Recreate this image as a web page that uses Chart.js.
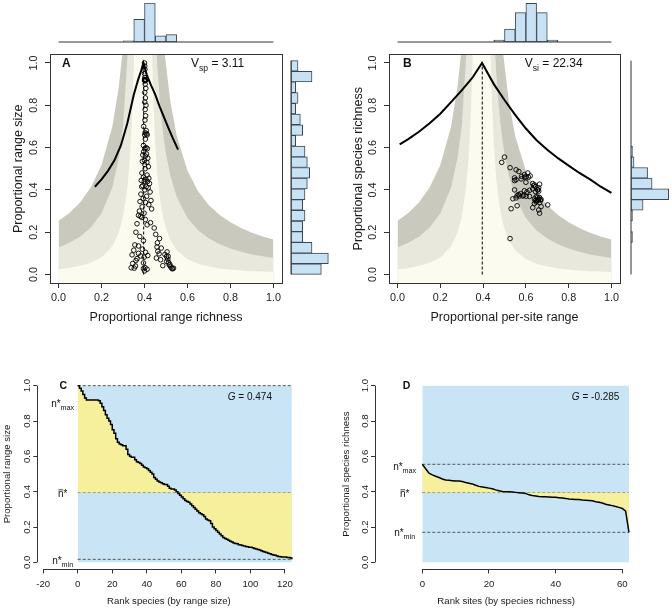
<!DOCTYPE html>
<html>
<head>
<meta charset="utf-8">
<script src="https://cdn.jsdelivr.net/npm/chart.js@4.4.1/dist/chart.umd.min.js"></script>
<style>
  body { margin: 0; background: #fff; width: 672px; height: 610px; position: relative; overflow: hidden; }
  canvas { position: absolute; }
</style>
</head>
<body>
<script>
// ---- data ----
// panel A / C: species, in rank order (range size, descending) and their range richness
const aSize = [1.0, 0.985, 0.97, 0.95, 0.93, 0.919, 0.919, 0.919, 0.919, 0.919, 0.919, 0.919, 0.915, 0.9, 0.88,
  0.86, 0.835, 0.815, 0.8, 0.78, 0.75, 0.73, 0.7, 0.68, 0.67, 0.665, 0.66, 0.66, 0.64, 0.61,
  0.6, 0.595, 0.595, 0.58, 0.57, 0.565, 0.56, 0.55, 0.54, 0.535, 0.53, 0.52, 0.51, 0.5, 0.48,
  0.47, 0.46, 0.455, 0.45, 0.445, 0.44, 0.44, 0.43, 0.42, 0.415, 0.415, 0.41, 0.4, 0.39, 0.38,
  0.37, 0.36, 0.35, 0.345, 0.34, 0.33, 0.32, 0.31, 0.3, 0.29, 0.28, 0.275, 0.27, 0.26, 0.245,
  0.24, 0.235, 0.22, 0.2, 0.19, 0.18, 0.17, 0.16, 0.15, 0.14, 0.135, 0.13, 0.125, 0.12, 0.115,
  0.11, 0.107, 0.105, 0.1, 0.098, 0.095, 0.093, 0.09, 0.088, 0.086, 0.085, 0.082, 0.078, 0.075, 0.073,
  0.07, 0.066, 0.062, 0.058, 0.055, 0.052, 0.048, 0.045, 0.042, 0.04, 0.036, 0.033, 0.032, 0.03, 0.03,
  0.03, 0.028, 0.027, 0.025, 0.017];
const aRich = [0.400, 0.401, 0.402, 0.400, 0.401, 0.403, 0.400, 0.404, 0.402, 0.402, 0.405, 0.401, 0.402, 0.403, 0.406,
  0.401, 0.404, 0.401, 0.407, 0.403, 0.405, 0.402, 0.396, 0.408, 0.403, 0.410, 0.401, 0.412, 0.404, 0.395,
  0.407, 0.401, 0.413, 0.396, 0.409, 0.392, 0.404, 0.415, 0.400, 0.390, 0.411, 0.401, 0.418, 0.403, 0.388,
  0.412, 0.395, 0.420, 0.406, 0.385, 0.414, 0.399, 0.423, 0.392, 0.408, 0.387, 0.417, 0.401, 0.426, 0.383,
  0.410, 0.394, 0.430, 0.379, 0.405, 0.420, 0.389, 0.433, 0.376, 0.398, 0.372, 0.381, 0.388, 0.404, 0.428,
  0.365, 0.412, 0.445, 0.360, 0.452, 0.378, 0.470, 0.395, 0.460, 0.355, 0.372, 0.458, 0.478, 0.390, 0.350,
  0.462, 0.505, 0.405, 0.372, 0.468, 0.495, 0.342, 0.415, 0.382, 0.510, 0.502, 0.398, 0.455, 0.365, 0.508,
  0.475, 0.360, 0.503, 0.512, 0.395, 0.345, 0.518, 0.515, 0.485, 0.358, 0.522, 0.402, 0.338, 0.535, 0.527,
  0.352, 0.395, 0.530, 0.412, 0.400];

// panel B / D: sites, in rank order (species richness, descending) and their per-site range
const bRich = [0.555, 0.53, 0.505, 0.495, 0.487, 0.48, 0.472, 0.466, 0.464, 0.462, 0.46, 0.46, 0.457, 0.452, 0.448,
  0.444, 0.436, 0.43, 0.427, 0.424, 0.42, 0.416, 0.41, 0.405, 0.401, 0.4, 0.4, 0.398, 0.396, 0.394,
  0.392, 0.39, 0.382, 0.378, 0.375, 0.372, 0.371, 0.371, 0.37, 0.369, 0.368, 0.366, 0.364, 0.362, 0.358,
  0.357, 0.356, 0.355, 0.353, 0.352, 0.35, 0.348, 0.343, 0.34, 0.336, 0.329, 0.325, 0.321, 0.316, 0.311,
  0.305, 0.29, 0.17];
const bRange = [0.500, 0.487, 0.526, 0.554, 0.567, 0.609, 0.593, 0.620, 0.580, 0.601, 0.612, 0.595, 0.547, 0.578, 0.554,
  0.547, 0.600, 0.632, 0.664, 0.640, 0.636, 0.645, 0.660, 0.632, 0.656, 0.547, 0.655, 0.617, 0.593, 0.660,
  0.645, 0.605, 0.575, 0.565, 0.590, 0.559, 0.570, 0.586, 0.601, 0.617, 0.648, 0.655, 0.664, 0.554, 0.539,
  0.640, 0.660, 0.671, 0.656, 0.668, 0.645, 0.652, 0.648, 0.664, 0.640, 0.702, 0.559, 0.671, 0.632, 0.531,
  0.660, 0.664, 0.526];

// expectation curves
const aCurveX = [0.169, 0.2, 0.23, 0.26, 0.29, 0.32, 0.35, 0.37, 0.385, 0.395, 0.41, 0.43, 0.45, 0.47, 0.49, 0.51, 0.53, 0.556];
const aCurveY = [0.415, 0.45, 0.49, 0.54, 0.61, 0.715, 0.85, 0.92, 0.965, 1.0, 0.945, 0.895, 0.85, 0.795, 0.745, 0.695, 0.648, 0.59];
const bCurveX = [0.01, 0.05, 0.1, 0.15, 0.2, 0.25, 0.3, 0.35, 0.395, 0.45, 0.5, 0.55, 0.6, 0.65, 0.7, 0.75, 0.8, 0.85, 0.9, 0.95, 1.0];
const bCurveY = [0.615, 0.64, 0.675, 0.715, 0.76, 0.815, 0.87, 0.93, 1.0, 0.9, 0.825, 0.755, 0.69, 0.635, 0.59, 0.55, 0.515, 0.48, 0.45, 0.415, 0.386];
const centreX = 0.396;

// envelope bands (upper edges), shared by A and B
const bandX = [0, 0.05, 0.1, 0.15, 0.2, 0.25, 0.28, 0.3, 0.32, 0.33, 0.34, 0.35, 0.36, 0.43, 0.44, 0.45,
  0.46, 0.47, 0.48, 0.49, 0.5, 0.52, 0.55, 0.6, 0.65, 0.7, 0.75, 0.8, 0.85, 0.9, 0.95, 1.0];
const bandDark = [0.254, 0.291, 0.341, 0.411, 0.518, 0.699, 0.885, 1.075, 1.37, 1.5, 1.5, 1.5, 1.5, 1.5, 1.5, 1.5,
  1.5, 1.36, 1.2, 1.08, 0.99, 0.82, 0.655, 0.49, 0.393, 0.328, 0.281, 0.247, 0.22, 0.198, 0.18, 0.165];
const bandMid = [0.128, 0.15, 0.179, 0.222, 0.29, 0.41, 0.55, 0.7, 1.02, 1.25, 1.5, 1.5, 1.5, 1.5, 1.47, 1.18,
  0.978, 0.834, 0.725, 0.639, 0.571, 0.469, 0.367, 0.267, 0.208, 0.17, 0.143, 0.123, 0.108, 0.095, 0.086, 0.078];
const bandPale = [0.025, 0.031, 0.041, 0.056, 0.081, 0.134, 0.198, 0.273, 0.408, 0.522, 0.695, 0.983, 1.5, 1.26, 0.848, 0.616,
  0.471, 0.374, 0.305, 0.255, 0.217, 0.163, 0.115, 0.072, 0.051, 0.038, 0.029, 0.024, 0.019, 0.016, 0.014, 0.012];

// marginal histograms (counts per 0.05 bin, starting at the given break)
const binW = 0.05;
const aRichHistStart = 0.30, aRichHist = [2, 37, 64, 10, 12];
const aSizeHistStart = 0.0, aSizeHist = [13, 16, 9, 5, 5, 6, 5, 6, 7, 8, 7, 6, 2, 5, 4, 2, 3, 2, 9, 3];
const bRangeHistStart = 0.45, bRangeHist = [1, 7, 16, 21, 16, 1];
const bRichHistStart = 0.15, bRichHist = [1, 0, 1, 8, 25, 14, 11, 2, 1];

// summary lines for C and D
const cMax = 1.0, cMean = 0.395, cMin = 0.017;
const dMax = 0.555, dMean = 0.395, dMin = 0.17;

// tick labels
const unitTicks = [0, 0.2, 0.4, 0.6, 0.8, 1.0];
const cRankTicks = [-20, 0, 20, 40, 60, 80, 100, 120];
const dRankTicks = [0, 20, 40, 60];

// ---- drawing ----
const FAM = '"Liberation Sans", Arial, Helvetica, sans-serif';
Chart.defaults.font.family = FAM;
const histFill = '#c7e2f4', histEdge = '#3d4753';
const colDark = '#c9c9bd', colMid = '#e8e8dc', colPale = '#fbfbef';
const colBlue = '#c9e5f5', colYellow = '#f6f09c';

function canvasAt(left, top, w, h) {
  const c = document.createElement('canvas');
  c.width = w; c.height = h;
  c.style.left = left + 'px'; c.style.top = top + 'px';
  c.style.width = w + 'px'; c.style.height = h + 'px';
  document.body.appendChild(c);
  return c;
}

function base(extra) {
  return Object.assign({
    responsive: false, animation: false, events: [],
    plugins: Object.assign({ legend: { display: false }, tooltip: { enabled: false } }, extra || {})
  });
}

const pts = (xs, ys) => xs.map((x, i) => ({ x: x, y: ys[i] }));
const ranked = ys => ys.map((y, i) => ({ x: i, y: y }));

// rich text with subscripts / bars, used for panel letters and annotations
function richText(ctx, parts, px, py, align, size) {
  const fontOf = p => (p.italic ? 'italic ' : '') + (p.bold ? 'bold ' : '') + (p.sub ? size * 0.72 : size) + 'px ' + FAM;
  let w = 0;
  parts.forEach(p => { ctx.font = fontOf(p); p.w = ctx.measureText(p.t).width; w += p.w; });
  let cx = align === 'center' ? px - w / 2 : align === 'right' ? px - w : px;
  const baseY = py + size * 0.36;
  ctx.textAlign = 'left'; ctx.textBaseline = 'alphabetic';
  ctx.fillStyle = '#111'; ctx.strokeStyle = '#111';
  parts.forEach(p => {
    ctx.font = fontOf(p);
    ctx.fillText(p.t, cx, p.sub ? baseY + size * 0.28 : baseY);
    if (p.bar) {
      ctx.lineWidth = 0.8;
      ctx.beginPath();
      ctx.moveTo(cx + 0.5, baseY - size * 0.72);
      ctx.lineTo(cx + p.w - 0.5, baseY - size * 0.72);
      ctx.stroke();
    }
    cx += p.w;
  });
}

// R-like decorations: box or short axis lines, plus annotations
const rDecor = {
  id: 'rDecor',
  afterDraw(chart, _args, o) {
    const { ctx, chartArea: a } = chart;
    const sx = chart.scales.x, sy = chart.scales.y;
    ctx.save();
    ctx.strokeStyle = '#333'; ctx.lineWidth = 1;
    if (o.box) {
      const l = Math.round(a.left) + 0.5, t = Math.round(a.top) + 0.5;
      ctx.strokeRect(l, t, Math.round(a.right) - Math.round(a.left), Math.round(a.bottom) - Math.round(a.top));
    }
    if (o.axes) {
      const xt = sx.ticks, yt = sy.ticks;
      const b = Math.round(a.bottom) + 0.5, lft = Math.round(a.left) + 0.5;
      ctx.beginPath();
      ctx.moveTo(sx.getPixelForValue(xt[0].value), b);
      ctx.lineTo(sx.getPixelForValue(xt[xt.length - 1].value), b);
      ctx.moveTo(lft, sy.getPixelForValue(yt[0].value));
      ctx.lineTo(lft, sy.getPixelForValue(yt[yt.length - 1].value));
      ctx.stroke();
    }
    (o.texts || []).forEach(t => richText(ctx, t.parts, sx.getPixelForValue(t.x), sy.getPixelForValue(t.y), t.align, t.size));
    ctx.restore();
  }
};

function rAxis(o) {
  const vertical = o.axis === 'y';
  return {
    type: 'linear', position: vertical ? 'left' : 'bottom',
    min: o.min, max: o.max,
    afterBuildTicks: s => { s.ticks = o.ticks.map(v => ({ value: v })); },
    afterFit: s => { if (vertical) s.width = o.size; else s.height = o.size; },
    border: { display: false },
    grid: { drawOnChartArea: false, tickLength: o.tl, tickColor: '#333', tickWidth: 1 },
    ticks: Object.assign({
      color: '#1a1a1a', font: { size: o.fs }, padding: o.pad, autoSkip: false, callback: o.fmt
    }, vertical ? { minRotation: 90, maxRotation: 90, crossAlign: 'center' } : { minRotation: 0, maxRotation: 0 }),
    title: { display: true, text: o.title, color: '#1a1a1a', font: { size: o.tfs }, padding: { top: o.tpad, bottom: o.tpad } }
  };
}

const fmt1 = v => v.toFixed(1);
const fmt0 = v => String(v);

function band(ys, colour) {
  return { data: pts(bandX, ys), showLine: true, fill: 'start', backgroundColor: colour, borderWidth: 0, pointRadius: 0 };
}

function scatterPanel(left, padL, padR, o) {
  return new Chart(canvasAt(left, 45, 290, 285), {
    type: 'scatter',
    data: {
      datasets: [
        { data: o.points, pointRadius: 2.3, pointBorderWidth: 0.9, pointBorderColor: '#000', pointBackgroundColor: 'rgba(0,0,0,0)' },
        { data: o.curve, showLine: true, borderColor: '#000', borderWidth: 2, pointRadius: 0 },
        { data: [{ x: centreX, y: 0 }, { x: centreX, y: 1 }], showLine: true, borderColor: '#000', borderWidth: 1, borderDash: [3, 2], pointRadius: 0 },
        band(bandPale, colPale), band(bandMid, colMid), band(bandDark, colDark)
      ]
    },
    options: Object.assign(base({ rDecor: { box: true, texts: o.texts } }), {
      layout: { padding: { left: 0, right: padR, top: 7, bottom: 0 } },
      scales: {
        x: rAxis({ axis: 'x', min: -0.04, max: 1.04, ticks: unitTicks, size: 47, tl: 5, fs: 10.8, pad: 3.8, fmt: fmt1, title: o.xTitle, tfs: 12.5, tpad: 5 }),
        y: rAxis({ axis: 'y', min: -0.04, max: 1.04, ticks: unitTicks, size: padL, tl: 5, fs: 10.8, pad: 3, fmt: fmt1, title: o.yTitle, tfs: 12.5, tpad: 10.6 })
      }
    }),
    plugins: [rDecor]
  });
}

function topHist(left, padL, padR, start, counts, ymax) {
  const bars = counts.map((c, i) => ({ x: start + binW * (i + 0.5), y: c }));
  return new Chart(canvasAt(left, 0, 290, 45), {
    type: 'bar',
    data: {
      datasets: [
        { type: 'line', data: [{ x: 0, y: 0 }, { x: 1, y: 0 }], borderColor: '#333', borderWidth: 1, pointRadius: 0, clip: 4 },
        { data: bars, backgroundColor: histFill, borderColor: histEdge, borderWidth: 1, borderSkipped: false, barPercentage: 1, categoryPercentage: 1 }
      ]
    },
    options: Object.assign(base(), {
      layout: { padding: { left: padL, right: padR, top: 3, bottom: 3 } },
      scales: {
        x: { type: 'linear', min: -0.04, max: 1.04, display: false, offset: false },
        y: { type: 'linear', min: 0, max: ymax, display: false }
      }
    })
  });
}

function sideHist(left, width, start, counts, xmax) {
  const bars = counts.map((c, i) => ({ x: c, y: start + binW * (i + 0.5) }));
  return new Chart(canvasAt(left, 45, width, 285), {
    type: 'bar',
    data: {
      datasets: [
        { type: 'line', data: [{ x: 0, y: 0 }, { x: 0, y: 1 }], borderColor: '#333', borderWidth: 1, pointRadius: 0, clip: 4 },
        { data: bars, backgroundColor: histFill, borderColor: histEdge, borderWidth: 1, borderSkipped: false, barPercentage: 1, categoryPercentage: 1 }
      ]
    },
    options: Object.assign(base(), {
      indexAxis: 'y',
      layout: { padding: { left: 6, right: 0, top: 7, bottom: 47 } },
      scales: {
        x: { type: 'linear', min: 0, max: xmax, display: false },
        y: { type: 'linear', min: -0.04, max: 1.04, display: false, offset: false }
      }
    })
  });
}

function rankPanel(left, width, yAxisW, padR, o) {
  const n = o.values.length - 1;
  const dash = v => ({ data: [{ x: 0, y: v }, { x: n, y: v }], showLine: true, borderColor: '#555', borderWidth: 1, borderDash: [3, 2], pointRadius: 0 });
  return new Chart(canvasAt(left, 340, width, 270), {
    type: 'scatter',
    data: {
      datasets: [
        { data: ranked(o.values), showLine: true, stepped: o.stepped, borderColor: '#000', borderWidth: 1.5, pointRadius: 0,
          fill: { value: o.mean }, backgroundColor: colYellow },
        dash(o.max), dash(o.mean), dash(o.min),
        { data: [{ x: 0, y: 1 }, { x: n, y: 1 }], showLine: true, fill: 'origin', backgroundColor: colBlue, borderWidth: 0, pointRadius: 0 }
      ]
    },
    options: Object.assign(base({ rDecor: { axes: true, texts: o.texts } }), {
      layout: { padding: { left: 0, right: padR, top: 38.6, bottom: 0 } },
      scales: {
        x: rAxis({ axis: 'x', min: o.xmin, max: o.xmax, ticks: o.xticks, size: 40.6, tl: 4, fs: 9.6, pad: 4.8, fmt: fmt0, title: o.xTitle, tfs: 9.6, tpad: 2.5 }),
        y: rAxis({ axis: 'y', min: -0.04, max: 1.04, ticks: unitTicks, size: yAxisW, tl: 4, fs: 9.6, pad: -1, fmt: fmt1, title: o.yTitle, tfs: 9.6, tpad: o.ytpad })
      }
    }),
    plugins: [rDecor]
  });
}

// top row
topHist(0, 50, 8, aRichHistStart, aRichHist, 64);
topHist(340, 49, 10, bRangeHistStart, bRangeHist, 21.2);

scatterPanel(0, 50, 8, {
  points: pts(aRich, aSize), curve: pts(aCurveX, aCurveY),
  xTitle: 'Proportional range richness', yTitle: 'Proportional range size',
  texts: [
    { x: 0.016, y: 1.0, align: 'left', size: 12, parts: [{ t: 'A', bold: true }] },
    { x: 0.74, y: 1.0, align: 'center', size: 12, parts: [{ t: 'V' }, { t: 'sp', sub: true }, { t: ' = 3.11' }] }
  ]
});
scatterPanel(340, 49, 10, {
  points: pts(bRange, bRich), curve: pts(bCurveX, bCurveY),
  xTitle: 'Proportional per-site range', yTitle: 'Proportional species richness',
  texts: [
    { x: 0.025, y: 1.0, align: 'left', size: 12, parts: [{ t: 'B', bold: true }] },
    { x: 0.73, y: 1.0, align: 'center', size: 12, parts: [{ t: 'V' }, { t: 'si', sub: true }, { t: ' = 22.34' }] }
  ]
});

sideHist(285, 55, aSizeHistStart, aSizeHist, 21);
sideHist(625, 47, bRichHistStart, bRichHist, 27.2);

// bottom row
rankPanel(0, 330, 37.3, 29.5, {
  values: aSize, stepped: true, max: cMax, mean: cMean, min: cMin,
  xmin: -23.4, xmax: 129, xticks: cRankTicks, ytpad: 1.2,
  xTitle: 'Rank species (by range size)', yTitle: 'Proportional range size',
  texts: [
    { x: -10.6, y: 1.0, align: 'left', size: 10.5, parts: [{ t: 'C', bold: true }] },
    { x: 99.7, y: 0.942, align: 'center', size: 10, parts: [{ t: 'G', italic: true }, { t: ' = 0.474' }] },
    { x: -8.7, y: 0.9, align: 'center', size: 10, parts: [{ t: 'n*' }, { t: 'max', sub: true }] },
    { x: -8.7, y: 0.39, align: 'center', size: 10, parts: [{ t: 'n', bar: true }, { t: '*' }] },
    { x: -8.7, y: 0.01, align: 'center', size: 10, parts: [{ t: 'n*' }, { t: 'min', sub: true }] }
  ]
});
rankPanel(330, 342, 45, 34.7, {
  values: bRich, stepped: false, max: dMax, mean: dMean, min: dMin,
  xmin: -14.2, xmax: 64.5, xticks: dRankTicks, ytpad: 10.9,
  xTitle: 'Rank sites (by species richness)', yTitle: 'Proportional species richness',
  texts: [
    { x: -5.9, y: 1.0, align: 'left', size: 10.5, parts: [{ t: 'D', bold: true }] },
    { x: 52, y: 0.942, align: 'center', size: 10, parts: [{ t: 'G', italic: true }, { t: ' = -0.285' }] },
    { x: -5.3, y: 0.541, align: 'center', size: 10, parts: [{ t: 'n*' }, { t: 'max', sub: true }] },
    { x: -5.3, y: 0.39, align: 'center', size: 10, parts: [{ t: 'n', bar: true }, { t: '*' }] },
    { x: -5.3, y: 0.17, align: 'center', size: 10, parts: [{ t: 'n*' }, { t: 'min', sub: true }] }
  ]
});
</script>
</body>
</html>
